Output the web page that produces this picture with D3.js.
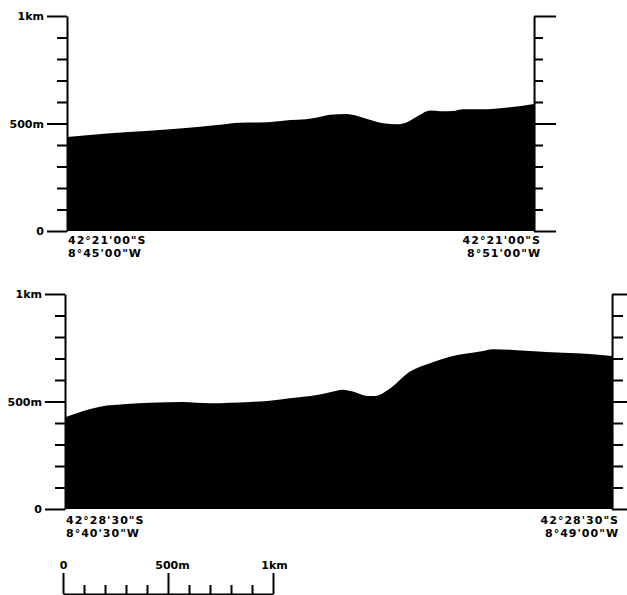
<!DOCTYPE html>
<meta charset="utf-8">
<style>
body { margin: 0; background: #fff; }
svg { display: block; }
.axis path, .axis line { stroke: #000; stroke-width: 2px; }
.axis text { font-family: "DejaVu Sans", sans-serif; font-weight: bold; font-size: 11px; fill: #000; }
.coord { font-family: "DejaVu Sans", sans-serif; font-weight: bold; font-size: 11px; letter-spacing: 1px; fill: #000; }
.ground { fill: #000; }
</style>
<svg width="627" height="595"></svg>
<script src="https://cdn.jsdelivr.net/npm/d3@7"></script>
<script>

// Profile 1 : distance along track (m) and height of the seabed (m)
var dist1 = [0, 190, 395, 552, 714, 824, 952, 1029, 1171, 1252, 1333, 1410, 1505, 1571, 1619, 1667, 1729, 1776, 1838, 1886, 1967, 2224];
var height1 = [437, 454, 466, 478, 493, 504, 506, 513, 524, 541, 544, 527, 501, 496, 506, 532, 560, 557, 558, 566, 566, 591];

// Profile 2
var dist2 = [0, 167, 295, 405, 562, 690, 881, 962, 1071, 1200, 1262, 1324, 1371, 1438, 1476, 1548, 1643, 1738, 1833, 1976, 2038, 2133, 2214, 2371, 2500, 2605];
var height2 = [427, 476, 488, 494, 498, 492, 498, 502, 515, 530, 543, 555, 546, 526, 526, 561, 639, 678, 708, 732, 743, 740, 735, 727, 721, 712];

// Coordinate labels at both ends of each profile
var start1 = ["42°21'00\"S", "8°45'00\"W"], end1 = ["42°21'00\"S", "8°51'00\"W"];
var start2 = ["42°28'30\"S", "8°40'30\"W"], end2 = ["42°28'30\"S", "8°49'00\"W"];

var heightTicks = d3.range(0, 1001, 100);
var scaleTicks = d3.range(0, 1001, 100);

var svg = d3.select("svg");

// one km on the page = 210px, same for both profiles and the scale bar
var kmPx = 210;

function fmt(d) {
  if (d === 0) return "0";
  if (d === 500) return "500m";
  if (d === 1000) return "1km";
  return "";
}

function coordLabel(lines, x, y, anchor) {
  lines.forEach(function(s, i) {
    svg.append("text")
        .attr("class", "coord")
        .attr("text-anchor", anchor)
        .attr("x", x)
        .attr("y", y + i * 13)
        .text(s);
  });
}

function profile(dist, height, left, top, bottom, rightTickMajor, rightTickMinor, startLab, endLab, labY) {
  var x = d3.scaleLinear().domain([0, 1000]).range([left, left + kmPx]);
  var xEnd = x(dist[dist.length - 1]);
  var y = d3.scaleLinear().domain([0, 1000]).range([bottom, top]);

  var pts = dist.map(function(d, i) { return [d, height[i]]; });
  var area = d3.area()
      .x(function(d) { return x(d[0]); })
      .y0(y(0))
      .y1(function(d) { return y(d[1]); })
      .curve(d3.curveMonotoneX);

  svg.append("path")
      .attr("class", "ground")
      .attr("d", area(pts));

  // left height axis
  var gl = svg.append("g")
      .attr("class", "axis")
      .attr("transform", "translate(" + left + ",0)")
      .call(d3.axisLeft(y).tickValues(heightTicks).tickSizeOuter(0).tickFormat(fmt));
  gl.selectAll(".tick line").attr("x2", function(d) { return d % 500 === 0 ? -20 : -10; });
  gl.selectAll(".tick text").attr("x", -23);

  // right height axis
  var gr = svg.append("g")
      .attr("class", "axis")
      .attr("transform", "translate(" + xEnd + ",0)")
      .call(d3.axisRight(y).tickValues(heightTicks).tickSizeOuter(0).tickFormat(""));
  gr.selectAll(".tick line").attr("x2", function(d) { return d % 500 === 0 ? rightTickMajor : rightTickMinor; });

  // coordinates at both ends
  coordLabel(startLab, left + 1, labY, "start");
  coordLabel(endLab, xEnd + 7, labY, "end");
}

profile(dist1, height1, 67, 16, 231, 22, 9, start1, end1, 244);
profile(dist2, height2, 65, 294, 509, 15, 11, start2, end2, 524);

// scale bar
var xs = d3.scaleLinear().domain([0, 1000]).range([63, 63 + kmPx]);
var gs = svg.append("g")
    .attr("class", "axis")
    .attr("transform", "translate(0,594)")
    .call(d3.axisTop(xs).tickValues(scaleTicks).tickSizeOuter(0).tickFormat(fmt));
gs.selectAll(".tick line").attr("y2", function(d) { return d % 500 === 0 ? -21 : -9; });
gs.selectAll(".tick text").attr("y", -25).attr("dy", 0)
    .attr("dx", function(d) { return d === 500 ? 4 : (d === 1000 ? 1 : 0); });

</script>
